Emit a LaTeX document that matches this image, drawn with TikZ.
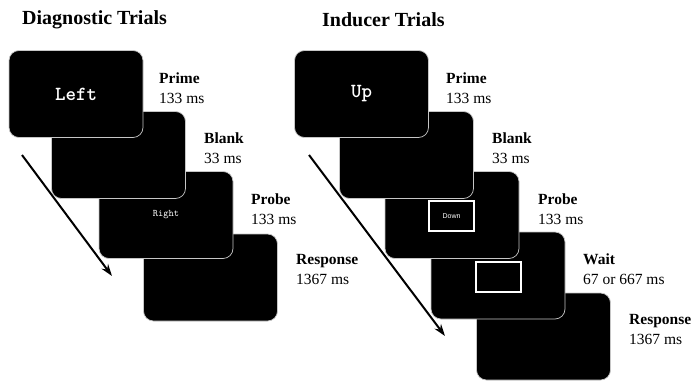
\documentclass[tikz,border=0pt]{standalone}
\usepackage{fontspec}
\setmainfont{Liberation Serif}
\newfontfamily\sansfnt{Liberation Sans}
\usetikzlibrary{arrows.meta}
\begin{document}
\begin{tikzpicture}[x=1pt,y=-1pt,
  screen/.style={rectangle,fill=black,draw=gray!45,line width=0.7pt,rounded corners=10pt,
    minimum width=134pt,minimum height=87pt,inner sep=0pt,text=white},
  lbl/.style={anchor=west,align=left,inner sep=0pt,font=\fontsize{15.5}{20}\selectfont},
  ttl/.style={anchor=west,inner sep=0pt,font=\fontsize{20}{22}\selectfont\bfseries},
  bigword/.style={font=\ttfamily\bfseries\fontsize{20}{22}\selectfont},
  frame/.style={rectangle,draw=white,line width=2pt,inner sep=0pt,text=white,
    minimum width=45pt,minimum height=30pt,font=\sansfnt\fontsize{7}{8}\selectfont},
  timearrow/.style={line width=2pt,-{Stealth[length=12pt,width=8pt]}}]
\path[fill=white] (0,0) rectangle (696,381);
% Diagnostic trials
\node[ttl] (dtitle) at (22,20) {Diagnostic Trials};
\node[screen] (d4) at (210.5,277.5) {};
\node[screen] (d3) at (166,215) {\ttfamily\fontsize{10}{12}\selectfont Right};
\node[screen] (d2) at (118.5,155) {};
\node[screen,bigword] (d1) at (76,94) {Left};
\node[lbl] (dl1) at (159,88) {\textbf{Prime}\\133 ms};
\node[lbl] (dl2) at (204,148) {\textbf{Blank}\\33 ms};
\node[lbl] (dl3) at (251,209) {\textbf{Probe}\\133 ms};
\node[lbl] (dl4) at (296,269.5) {\textbf{Response}\\1367 ms};
\coordinate (da) at (22,155);
\coordinate (db) at (112,276);
\draw[timearrow] (da) -- (db);
% Inducer trials
\node[ttl] (ititle) at (322,20) {Inducer Trials};
\node[screen] (i5) at (543.5,336.5) {};
\node[screen] (i4) at (498,275.5) {};
\node[frame] (f4) at (498,276.5) {};
\node[screen] (i3) at (452,215) {};
\node[frame] (f3) at (451.5,216) {Down};
\node[screen] (i2) at (406.5,155) {};
\node[screen,bigword] (i1) at (361.5,94) {Up};
\node[lbl] (il1) at (446,88) {\textbf{Prime}\\133 ms};
\node[lbl] (il2) at (492,148) {\textbf{Blank}\\33 ms};
\node[lbl] (il3) at (538,209) {\textbf{Probe}\\133 ms};
\node[lbl] (il4) at (583,269.5) {\textbf{Wait}\\67 or 667 ms};
\node[lbl] (il5) at (629,329.5) {\textbf{Response}\\1367 ms};
\coordinate (ia) at (309,155);
\coordinate (ib) at (445,336);
\draw[timearrow] (ia) -- (ib);
\end{tikzpicture}
\end{document}
